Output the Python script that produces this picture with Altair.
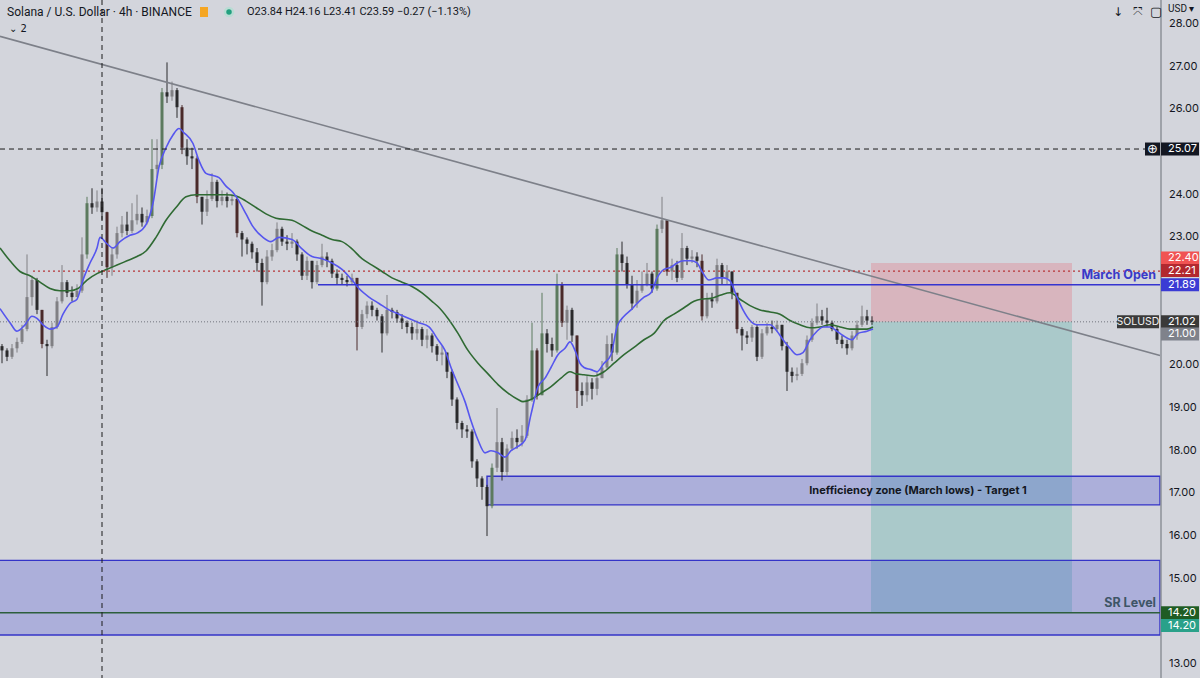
import altair as alt
import pandas as pd

# ---------------- data ----------------
first_open = 20.45
close = [20.35,20.2,20.4,20.55,20.85,21.6,22.0,21.3,20.5,20.45,
 20.9,21.5,21.95,21.7,21.6,21.75,22.6,23.8,23.7,23.84,
 23.59,22.3,22.6,23.1,23.3,23.15,23.4,23.55,23.35,23.5,
 24.6,24.7,26.4,26.3,26.45,26.05,25.1,24.9,24.85,23.95,
 23.6,23.9,24.3,23.85,23.95,23.85,23.9,23.1,22.95,22.85,
 22.65,22.4,21.95,22.55,22.7,23.2,22.9,22.85,22.9,22.6,
 22.1,22.45,21.95,22.35,22.55,22.45,22.15,22.05,22.0,21.95,
 22.05,20.9,21.2,21.4,21.3,21.15,20.75,21.3,21.25,21.1,
 21.0,20.9,20.75,20.85,20.6,20.7,20.45,20.25,20.3,19.85,
 19.2,18.65,18.5,18.45,17.75,17.35,17.15,16.7,17.6,18.2,
 17.5,18.05,18.3,18.2,18.35,19.2,20.35,19.3,20.75,20.5,
 20.35,21.9,21.0,21.3,20.7,19.4,19.3,19.6,19.45,19.7,
 19.95,20.5,20.3,22.6,22.4,21.9,21.45,21.75,21.9,22.15,
 21.8,23.2,23.4,22.2,22.35,22.05,22.75,22.5,22.55,22.45,
 21.15,21.55,21.5,22.35,22.05,22.2,21.7,20.85,20.7,20.65,
 20.9,20.2,20.75,20.9,20.85,20.95,20.45,19.85,19.75,19.8,
 20.05,20.6,21.0,21.15,21.05,21.0,20.85,20.6,20.5,20.4,
 20.7,20.95,21.15,21.05,21.02]
high = [20.5,20.4,20.5,20.65,20.95,22.6,22.1,22.05,21.3,20.6,
 21.0,21.6,22.35,22.0,21.85,21.9,23.0,23.95,24.15,24.1,
 24.16,23.6,22.75,23.25,23.5,23.6,23.8,24.0,23.7,23.65,
 25.3,25.3,26.5,27.1,26.65,26.5,26.1,25.3,25.1,24.9,
 23.95,24.1,24.5,24.35,24.1,24.05,24.0,23.95,23.15,23.0,
 22.9,22.75,22.5,22.7,22.85,23.35,23.25,23.05,23.1,22.95,
 22.65,22.55,22.45,22.45,22.85,22.65,22.5,22.25,22.15,22.1,
 22.15,22.05,21.3,21.5,21.5,21.35,21.2,21.65,21.35,21.3,
 21.2,21.05,21.0,21.05,20.9,20.85,20.75,20.5,20.45,20.3,
 19.9,19.25,18.7,18.6,18.5,17.8,17.4,17.2,17.7,19.0,
 18.3,18.15,18.45,18.5,18.6,19.3,21.0,20.4,21.7,20.85,
 20.65,22.15,21.95,21.4,21.35,20.7,19.6,19.75,19.7,19.85,
 20.1,20.7,20.75,22.75,22.9,22.55,22.1,22.0,22.2,22.4,
 22.2,23.3,23.95,23.4,22.5,22.45,23.1,22.8,22.7,22.65,
 22.6,21.7,21.7,22.5,22.4,22.35,22.2,21.7,20.9,20.8,
 20.95,20.95,20.85,21.0,21.05,21.05,20.95,20.55,19.95,19.95,
 20.15,20.7,21.1,21.45,21.3,21.35,21.05,20.9,20.7,20.6,
 20.8,21.05,21.4,21.3,21.15]
low = [20.05,20.1,20.15,20.3,20.5,20.8,21.4,21.2,20.4,19.75,
 20.4,20.85,21.45,21.6,21.5,21.6,21.7,22.5,23.55,23.6,
 23.41,22.05,22.1,22.5,23.0,23.05,23.1,23.3,23.25,23.3,
 23.45,24.4,24.6,26.15,26.2,25.8,24.95,24.7,24.6,23.8,
 23.3,23.5,23.85,23.7,23.75,23.7,23.75,23.0,22.55,22.6,
 22.5,22.2,21.4,21.9,22.45,22.65,22.8,22.7,22.75,22.45,
 22.0,22.0,21.8,21.9,22.3,22.3,22.05,21.9,21.9,21.85,
 21.9,20.35,20.85,21.1,21.15,21.05,20.3,20.7,21.1,21.0,
 20.85,20.75,20.6,20.6,20.45,20.4,20.3,20.1,20.0,19.7,
 19.05,18.5,18.3,18.3,17.6,17.15,16.85,16.0,16.65,17.5,
 17.3,17.4,18.0,18.05,18.1,18.3,19.15,19.2,19.3,20.3,
 20.2,20.3,20.9,20.6,20.55,19.0,19.05,19.15,19.2,19.3,
 19.7,19.9,20.1,20.25,22.2,21.8,21.3,21.35,21.7,21.85,
 21.7,21.75,23.1,22.1,22.0,21.95,22.0,22.35,22.4,22.3,
 21.05,21.1,21.35,21.45,21.9,21.9,21.55,20.75,20.35,20.5,
 20.55,20.1,20.15,20.7,20.75,20.8,20.35,19.4,19.6,19.65,
 19.75,20.0,20.55,20.95,20.95,20.9,20.8,20.5,20.4,20.25,
 20.35,20.6,20.9,20.95,20.95]

blue_bar = [-0.4,1.6,3,4.6,6,7,8.2,9.6,11,12.2,13.6,15,16.2,17.6,19,19.6,21,22.2,23.6,25.6,27,28.8,30.2,31.4,32.8,34.2,35.4,36.4,38.2,39.4,40.8,42.2,43.4,44.8,46.2,47.4,48.8,50.2,52.2,53.8,55.4,58,60,62,64,66,68,70,71.4,73.4,75.4,77.4,79.4,81.4,83.4,85.4,87.2,88.6,89.8,91.2,92.6,93.8,95.2,96.6,97.8,99.2,100.6,101.8,103.2,104.6,105.8,107.2,108.6,109.8,111.2,112.6,113.6,114.6,115.6,116.4,117.8,119,120.4,121.8,123,124.4,125.8,127,128.4,129.8,131,132.4,133.8,135,136.4,137.8,139,140,141.4,143,144.4,145.6,147,148.2,149.6,151,152.2,153.6,155,156.2,157.6,159,160.2,161.6,163,164.2,165.6,167,168.2,170,171.2,173,174.2]
blue_val = [21.33,21.0,20.8,20.95,21.15,21.1,20.95,20.85,20.9,21.2,21.45,21.55,22.0,22.4,22.75,23.0,22.85,22.75,22.9,23.05,23.1,23.3,23.8,24.65,25.1,25.4,25.55,25.45,25.2,24.8,24.5,24.45,24.4,24.2,24.05,23.85,23.55,23.25,23.0,22.9,23.0,22.95,22.73,22.55,22.5,22.4,22.25,22.0,21.8,21.6,21.45,21.3,21.2,21.1,21.0,20.9,20.6,20.35,19.95,19.55,19.15,18.7,18.25,17.95,18.0,17.95,17.85,18.0,18.1,18.25,18.85,19.5,19.7,19.95,20.25,20.4,20.55,20.35,20.05,19.95,19.9,19.85,20.05,20.25,20.9,21.15,21.3,21.45,21.6,21.7,22.05,22.25,22.3,22.4,22.45,22.45,22.4,22.2,22.0,22.05,22.05,21.98,21.6,21.3,21.05,20.95,20.95,20.95,20.8,20.6,20.4,20.25,20.3,20.6,20.8,20.9,20.9,20.8,20.7,20.6,20.75,20.8,20.85]
green_bar = [-0.4,1.6,3.6,5.6,7.6,9.6,11.6,13.6,15.2,17,19,21,23,25,27,28.8,30.8,32.8,34.8,36.8,38.8,40.8,42.8,44.8,46.8,48.8,50.8,52.8,54.8,58,60,62,64,66,68,70,72,74,76,78,80,82,84,86,87.2,89.2,91.2,93.2,95.2,97.2,99.2,101.2,103.2,104.2,105.8,107.8,109.8,111.8,113.6,114.8,116.4,118.4,120.4,122.4,124.4,126.4,128.4,130.4,132.4,134.4,136.4,138.4,139.8,141.8,143.8,145.6,147.6,149.6,151.6,153.6,155.6,157.6,159.6,161.6,163.6,165.6,167.6,169.6,171,173,174.2]
green_val = [22.75,22.45,22.2,22.1,21.95,21.8,21.75,21.75,21.8,22.0,22.15,22.25,22.35,22.45,22.55,22.68,23.0,23.4,23.7,23.95,24.0,24.0,24.0,24.0,23.97,23.85,23.7,23.55,23.45,23.4,23.28,23.15,23.05,22.95,22.9,22.73,22.5,22.35,22.2,22.05,21.95,21.85,21.7,21.5,21.38,21.1,20.75,20.35,20.05,19.8,19.55,19.35,19.2,19.15,19.2,19.35,19.5,19.7,19.85,19.8,19.78,19.75,19.85,20.05,20.25,20.42,20.6,20.75,21.05,21.2,21.35,21.5,21.55,21.57,21.65,21.7,21.55,21.4,21.3,21.25,21.2,21.05,20.95,20.88,20.9,20.95,20.9,20.85,20.85,20.85,20.9]

# levels (prices) and the bars they start / end at
trend_bar = [-0.4, 231.6]
trend_price = [27.71, 20.23]
cursor_bar = 20
alert_price = 25.07
red_level = 22.21
red_level_start = 6.2
march_open = 21.89
march_open_start = 63.2
last_price = 21.02
pos_entry, pos_stop, pos_target = 21.02, 22.40, 14.20
pos_start, pos_end = 173.8, 214
ineff_top, ineff_bottom, ineff_start = 17.40, 16.73, 97
sr_top, sr_bottom, sr_level = 15.43, 13.68, 14.20
edge_bar = 231.6
axis_ticks = [13, 15, 16, 17, 18, 19, 20, 23, 24, 26, 27, 28]
tag_values = [25.07, 22.40, 22.21, 21.89, 21.02, 21.00, 14.20, 14.20]
tag_texts = ["25.07", "22.40", "22.21", "21.89", "21.02", "21.00", "14.20", "14.20"]

# ---------------- styling / layout ----------------
tag_colors = ["#131722", "#f05353", "#b2282f", "#3b3bd4", "#3a3a3a", "#7f828b", "#1f5c24", "#2aa18a"]
tag_shift_px = [0, -5, -0.5, 0, 0, 11.3, 0, 12.7]
BG = "#d3d5dc"
YMIN, YMAX = 12.673, 28.5625
W, H = 1200, 678
PX = (YMAX - YMIN) / H
FONT = "Inter"
HFONT = "Roboto"

xs = alt.Scale(domain=[-0.4, 239.6], nice=False, zero=False, padding=0)
ys = alt.Scale(domain=[YMIN, YMAX], nice=False, zero=False, padding=0)
NOAX = None

# candles
opens = [first_open] + close[:-1]
rows = []
for i, (o, h, l, c) in enumerate(zip(opens, high, low, close)):
    h = max(h, o, c)
    l = min(l, o, c)
    body = abs(c - o)
    if c >= o:
        kind = "upbig" if body >= 0.9 else "up"
    else:
        kind = "dnbig" if body >= 0.75 else "dn"
    rows.append({"i": i, "o": o, "h": h, "l": l, "c": c, "kind": kind})
cdf = pd.DataFrame(rows)

kind_dom = ["up", "dn", "upbig", "dnbig"]
body_scale = alt.Scale(domain=kind_dom, range=["#a2a2a4", "#1d1d1f", "#54805a", "#6a2727"])
wick_scale = alt.Scale(domain=kind_dom, range=["#808084", "#2a2a2c", "#5c7a5f", "#4a2a2a"])

wicks = alt.Chart(cdf).mark_rule(strokeWidth=1).encode(
    x=alt.X("i:Q", scale=xs, axis=NOAX),
    y=alt.Y("l:Q", scale=ys, axis=NOAX),
    y2="h:Q",
    color=alt.Color("kind:N", scale=wick_scale, legend=None),
)
bodies = alt.Chart(cdf).mark_bar(size=3).encode(
    x=alt.X("i:Q", scale=xs, axis=NOAX),
    y=alt.Y("o:Q", scale=ys, axis=NOAX),
    y2="c:Q",
    color=alt.Color("kind:N", scale=body_scale, legend=None),
)

blue = alt.Chart(pd.DataFrame({"b": blue_bar, "v": blue_val})).mark_line(
    color="#5656ee", strokeWidth=1.6, interpolate="monotone").encode(
    x=alt.X("b:Q", scale=xs, axis=NOAX), y=alt.Y("v:Q", scale=ys, axis=NOAX), order="b:Q")
green = alt.Chart(pd.DataFrame({"b": green_bar, "v": green_val})).mark_line(
    color="#2f6a33", strokeWidth=1.6, interpolate="monotone").encode(
    x=alt.X("b:Q", scale=xs, axis=NOAX), y=alt.Y("v:Q", scale=ys, axis=NOAX), order="b:Q")

trend = alt.Chart(pd.DataFrame({"b": trend_bar, "v": trend_price})).mark_line(
    color="#7d8089", strokeWidth=1.6, clip=True).encode(
    x=alt.X("b:Q", scale=xs, axis=NOAX), y=alt.Y("v:Q", scale=ys, axis=NOAX))


def hrect(x0, x1, y0, y1, **kw):
    return alt.Chart(pd.DataFrame({"x0": [x0], "x1": [x1], "y0": [y0], "y1": [y1]})).mark_rect(**kw).encode(
        x=alt.X("x0:Q", scale=xs, axis=NOAX), x2="x1:Q",
        y=alt.Y("y0:Q", scale=ys, axis=NOAX), y2="y1:Q")


def hline(x0, x1, y, **kw):
    return alt.Chart(pd.DataFrame({"x0": [x0], "x1": [x1], "y": [y]})).mark_rule(**kw).encode(
        x=alt.X("x0:Q", scale=xs, axis=NOAX), x2="x1:Q",
        y=alt.Y("y:Q", scale=ys, axis=NOAX))


pos_red = hrect(pos_start, pos_end, pos_entry, pos_stop, color="#f23645", opacity=0.2)
pos_green = hrect(pos_start, pos_end, pos_target, pos_entry, color="#089981", opacity=0.2)
ineff = hrect(ineff_start, edge_bar, ineff_bottom, ineff_top, fill="#3840d2", fillOpacity=0.25,
              stroke="#3434c8", strokeWidth=1.4, clip=True)
sr = hrect(-3, edge_bar, sr_bottom, sr_top, fill="#3840d2", fillOpacity=0.25,
           stroke="#3434c8", strokeWidth=1.4, clip=True)

sr_line = hline(-0.4, edge_bar, sr_level, color="#2c5e3c", strokeWidth=1.5)
alert_line = hline(-0.4, 228.6, alert_price, color="#1a1a1a", strokeWidth=1, strokeDash=[5, 4])
red_line = hline(red_level_start, edge_bar, red_level, color="#b83437", strokeWidth=1.2, strokeDash=[2, 3])
march_line = hline(march_open_start, edge_bar, march_open, color="#3434d0", strokeWidth=1.5)
last_line = hline(-0.4, 223, last_price, color="#70737c", strokeWidth=1, strokeDash=[1, 2])

cursor = alt.Chart(pd.DataFrame({"b": [cursor_bar]})).mark_rule(
    color="#1a1a1a", strokeWidth=1, strokeDash=[5, 4]).encode(x=alt.X("b:Q", scale=xs, axis=NOAX))


def txt(s, x, y, size=12, color="#131722", weight="normal", align="left", font=FONT):
    return alt.Chart(pd.DataFrame({"t": [s]})).mark_text(
        fontSize=size, color=color, fontWeight=weight, align=align, baseline="middle", font=font).encode(
        text="t:N", x=alt.value(x), y=alt.value(y))


def ptxt(s, bar, price, size=12, color="#131722", weight="normal", align="left"):
    return alt.Chart(pd.DataFrame({"t": [s], "b": [bar], "v": [price]})).mark_text(
        fontSize=size, color=color, fontWeight=weight, align=align, baseline="middle", font=FONT).encode(
        text="t:N", x=alt.X("b:Q", scale=xs, axis=NOAX), y=alt.Y("v:Q", scale=ys, axis=NOAX))


ineff_label = ptxt("Inefficiency zone (March lows) - Target 1", 183.2, (ineff_top + ineff_bottom) / 2,
                   size=11, weight="bold", align="center")
march_label = txt("March Open", 1156, 275, size=12.5, color="#3a3ac8", weight="bold", align="right")
sr_label = txt("SR Level", 1156, 603, size=12.5, color="#3e5566", weight="bold", align="right")

# price axis (drawn through the y scale)
axis_line = alt.Chart(pd.DataFrame({"a": [0]})).mark_rule(color="#8d9099", strokeWidth=1.5).encode(
    x=alt.value(1161))
axis_lab = alt.Chart(pd.DataFrame({"v": axis_ticks})).transform_calculate(
    lab="format(datum.v, '.2f')").mark_text(
    fontSize=11, color="#131722", font=FONT, align="left", baseline="middle").encode(
    x=alt.value(1169), y=alt.Y("v:Q", scale=ys, axis=NOAX), text="lab:N")

# price tags on the axis
tag_rows = []
for v, t, col, sh in zip(tag_values, tag_texts, tag_colors, tag_shift_px):
    disp = v - sh * PX
    tag_rows.append({"t": t, "c": col, "m": disp, "top": disp + 6.5 * PX, "bot": disp - 6.5 * PX})
tdf = pd.DataFrame(tag_rows)
tag_box = alt.Chart(tdf).mark_rect().encode(
    x=alt.value(1161), x2=alt.value(1199),
    y=alt.Y("top:Q", scale=ys, axis=NOAX), y2="bot:Q",
    color=alt.Color("c:N", scale=None))
tag_txt = alt.Chart(tdf).mark_text(fontSize=11, color="#ffffff", font=FONT, align="left", baseline="middle").encode(
    x=alt.value(1168), y=alt.Y("m:Q", scale=ys, axis=NOAX), text="t:N")

sym = pd.DataFrame({"t": ["SOLUSD"], "top": [last_price + 6.5 * PX], "bot": [last_price - 6.5 * PX], "m": [last_price]})
sym_box = alt.Chart(sym).mark_rect(color="#3a3a3a").encode(
    x=alt.value(1117), x2=alt.value(1159), y=alt.Y("top:Q", scale=ys, axis=NOAX), y2="bot:Q")
sym_txt = alt.Chart(sym).mark_text(fontSize=10.5, color="#f0f0f0", font=FONT, align="center", baseline="middle").encode(
    x=alt.value(1138), y=alt.Y("m:Q", scale=ys, axis=NOAX), text="t:N")

al = pd.DataFrame({"t": ["⊕"], "top": [alert_price + 6.5 * PX], "bot": [alert_price - 6.5 * PX], "m": [alert_price]})
al_box = alt.Chart(al).mark_rect(color="#131722").encode(
    x=alt.value(1145), x2=alt.value(1160), y=alt.Y("top:Q", scale=ys, axis=NOAX), y2="bot:Q")
al_txt = alt.Chart(al).mark_text(fontSize=13, color="#ffffff", font="DejaVu Sans", align="center", baseline="middle").encode(
    x=alt.value(1152.5), y=alt.Y("m:Q", scale=ys, axis=NOAX), text="t:N")

# header
header = [
    txt("Solana / U.S. Dollar · 4h · BINANCE", 7, 12, size=12, font=HFONT),
    alt.Chart(pd.DataFrame({"a": [0]})).mark_rect(color="#f5a623").encode(
        x=alt.value(200), x2=alt.value(208), y=alt.value(7), y2=alt.value(17)),
    alt.Chart(pd.DataFrame({"a": [0]})).mark_point(filled=True, color="#b9dcd4", size=110, opacity=1).encode(
        x=alt.value(229), y=alt.value(12)),
    alt.Chart(pd.DataFrame({"a": [0]})).mark_point(filled=True, color="#22a07f", size=30, opacity=1).encode(
        x=alt.value(229), y=alt.value(12)),
    txt("O23.84  H24.16  L23.41  C23.59  −0.27 (−1.13%)", 247, 12, size=11, font=HFONT),
    txt("⌄ 2", 9, 29, size=10, font="DejaVu Sans"),
    txt("↓", 1113, 12, size=12, font="DejaVu Sans"),
    txt("⤧", 1133, 12, size=12, font="DejaVu Sans"),
    txt("▢", 1150, 12, size=13, font="DejaVu Sans"),
    txt("USD ▾", 1168, 9, size=10, font=HFONT),
]

layers = [pos_red, pos_green, sr, ineff, wicks, bodies, green, blue, trend,
          sr_line, alert_line, red_line, march_line, last_line, cursor,
          ineff_label, march_label, sr_label, axis_line, axis_lab,
          sym_box, sym_txt, al_box, al_txt, tag_box, tag_txt] + header

chart = alt.layer(*layers).properties(
    width=W, height=H, background=BG, padding=0,
    autosize=alt.AutoSizeParams(type="none"),
).configure_view(stroke=None)

chart.save("out.html", embed_options={"renderer": "svg", "actions": False})
